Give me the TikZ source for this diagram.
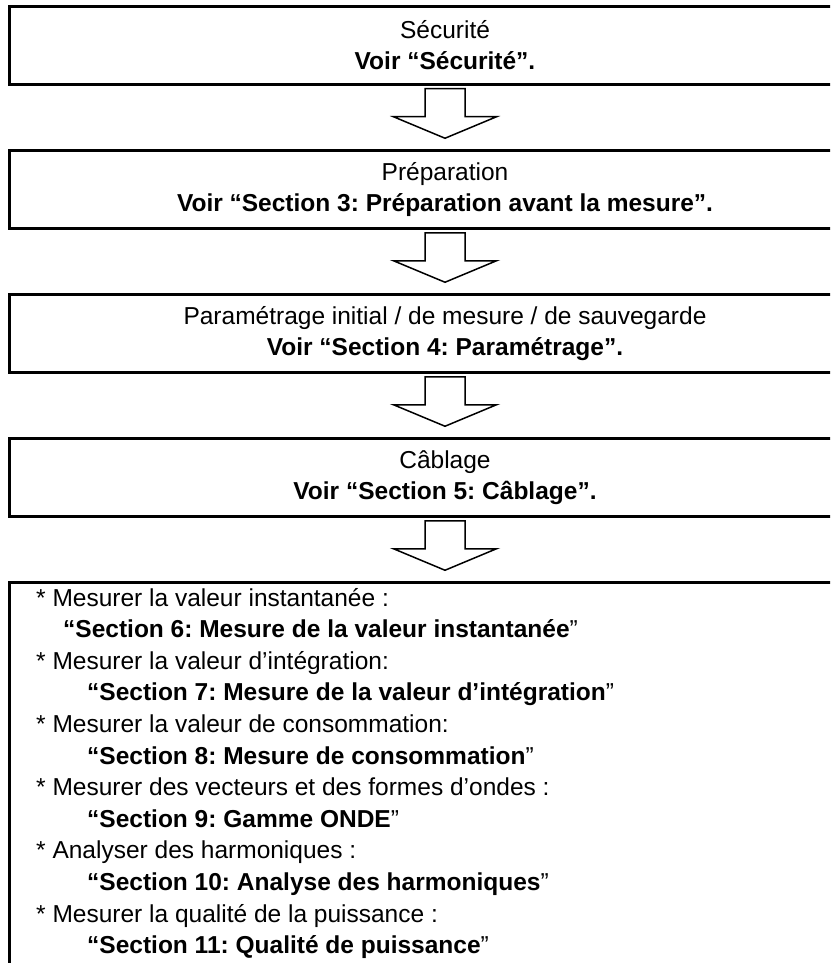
\documentclass[tikz,border=0pt]{standalone}
\usepackage{fontspec}
\setmainfont{Liberation Sans}
\usetikzlibrary{positioning,calc}
\frenchspacing

\tikzset{
  stage/.style={draw, line width=3pt, minimum width=872pt, minimum height=78.5pt,
    inner sep=0pt, outer sep=0pt, align=center, font=\fontsize{24.5}{31}\selectfont},
  flowarrow/.style={draw, line width=1.5pt, fill=white, line join=miter},
  item/.style={anchor=base west, inner sep=0pt, font=\fontsize{24.5}{31}\selectfont},
}

\begin{document}
\begin{tikzpicture}[x=1pt,y=-1pt]
\useasboundingbox (0,0) rectangle (830,963);
\clip (0,0) rectangle (830,963);
% steps
\node[stage] (secu) at (445,45.5) {Sécurité\\\textbf{Voir “Sécurité”.}};
\node[stage, below=65.5pt of secu] (prep) {Préparation\\\textbf{Voir “Section 3: Préparation avant la mesure”.}};
\node[stage, below=65.5pt of prep] (para) {Paramétrage initial / de mesure / de sauvegarde\\\textbf{Voir “Section 4: Paramétrage”.}};
\node[stage, below=65.5pt of para] (cabl) {Câblage\\\textbf{Voir “Section 5: Câblage”.}};
\node[stage, below=65.5pt of cabl, minimum height=500pt] (mes) {};
% block arrows
\foreach \a/\b in {secu/prep, prep/para, para/cabl, cabl/mes}
\draw[flowarrow] ($(\a.south)+(-20,4)$) -- ++(0,28) -- ++(-31.5,0)
  -- ($(\b.north)+(0,-12)$) -- ($(\a.south)+(51.5,32)$) -- ++(-31.5,0)
  -- ++(0,-28) -- cycle;
% measurements
\foreach \n/\x/\txt in {
0/36/{* Mesurer la valeur instantanée :},
1/63/{\textbf{“Section 6: Mesure de la valeur instantanée}”},
2/36/{* Mesurer la valeur d’intégration:},
3/87/{\textbf{“Section 7: Mesure de la valeur d’intégration}”},
4/36/{* Mesurer la valeur de consommation:},
5/87/{\textbf{“Section 8: Mesure de consommation}”},
6/36/{* Mesurer des vecteurs et des formes d’ondes :},
7/87/{\textbf{“Section 9: Gamme ONDE}”},
8/36/{* Analyser des harmoniques :},
9/87/{\textbf{“Section 10: Analyse des harmoniques}”},
10/36/{* Mesurer la qualité de la puissance :},
11/87/{\textbf{“Section 11: Qualité de puissance}”}}
\node[item] (row\n) at (\x,606+31.6*\n) {\txt};
\end{tikzpicture}
\end{document}
